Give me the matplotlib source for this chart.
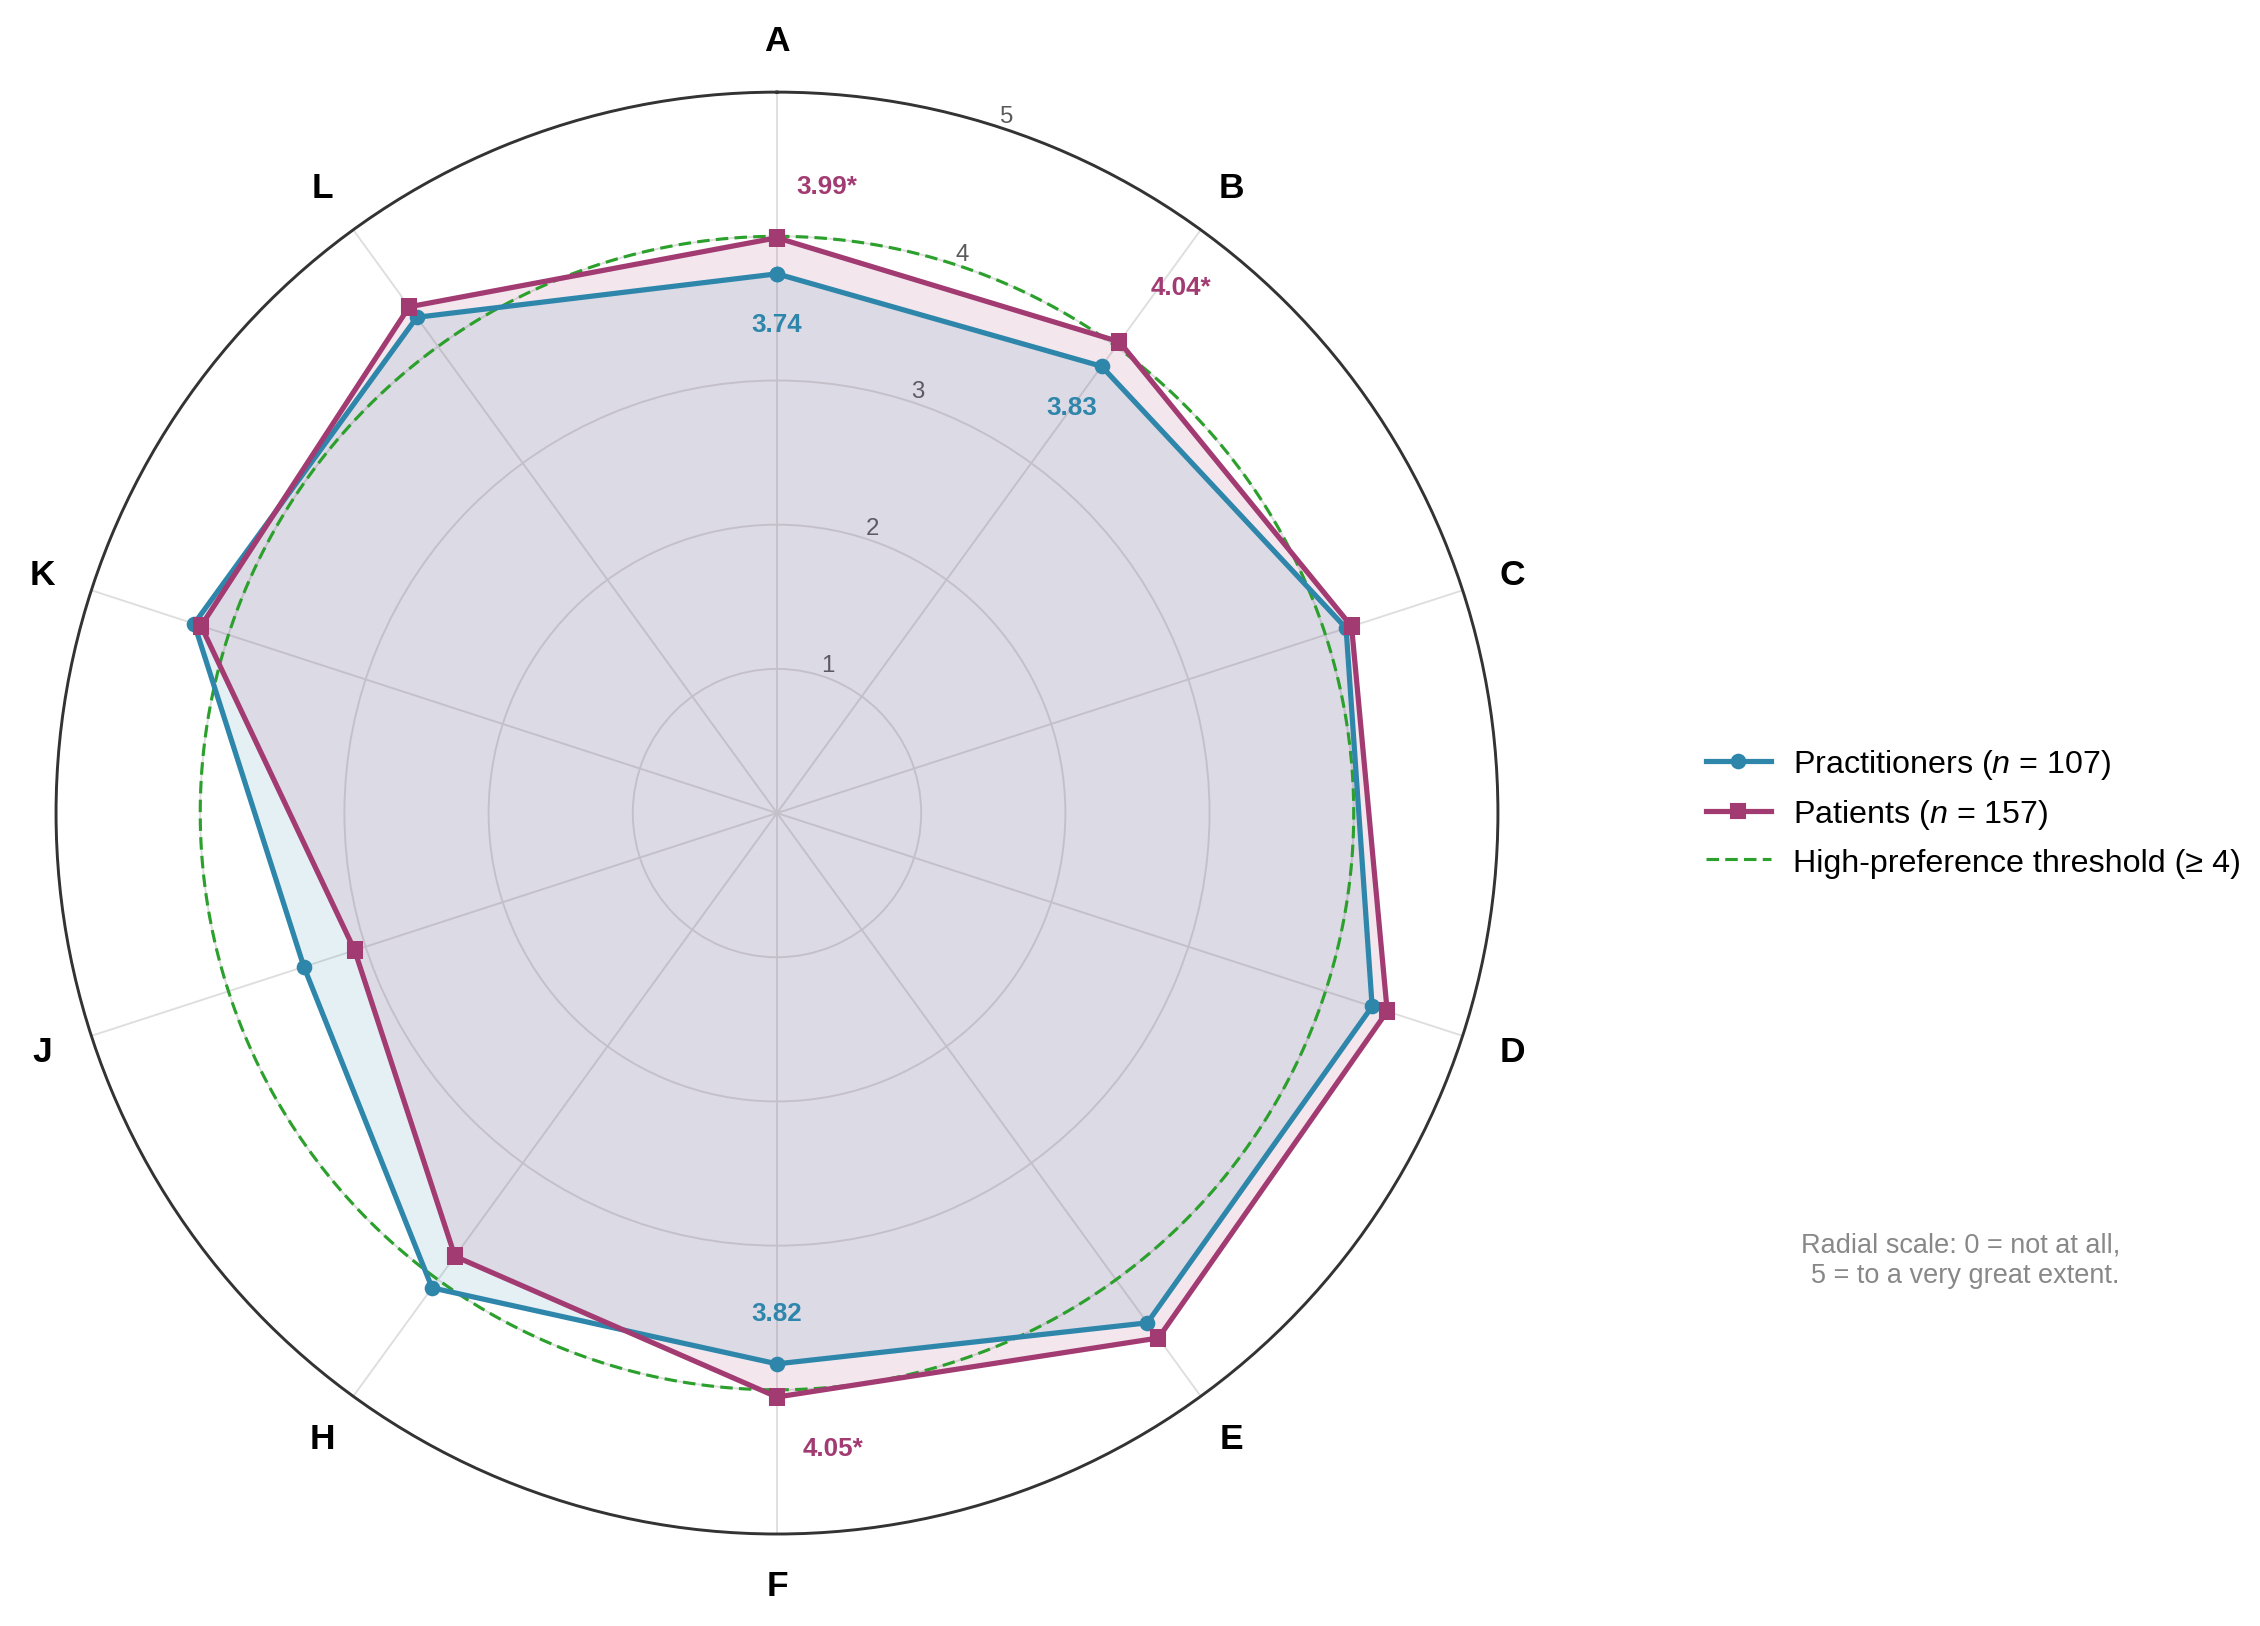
import numpy as np
import matplotlib
matplotlib.use("Agg")
import matplotlib.pyplot as plt
from matplotlib.lines import Line2D

plt.rcParams['font.family'] = ['Liberation Sans', 'DejaVu Sans']
plt.rcParams['mathtext.fontset'] = 'custom'
plt.rcParams['mathtext.rm'] = 'Liberation Sans'
plt.rcParams['mathtext.it'] = 'Liberation Sans:italic'

# data
categories = ['A', 'B', 'C', 'D', 'E', 'F', 'H', 'J', 'K', 'L']
practitioners = [3.74, 3.83, 4.15, 4.34, 4.37, 3.82, 4.07, 3.45, 4.25, 4.25]
patients = [3.99, 4.04, 4.19, 4.45, 4.50, 4.05, 3.80, 3.08, 4.20, 4.34]
threshold = 4
r_ticks = [1, 2, 3, 4, 5]

# labelled points: (index, series, text)
labelled = [(0, 'prac', '3.74'), (1, 'prac', '3.83'), (5, 'prac', '3.82'),
            (0, 'pat', '3.99*'), (1, 'pat', '4.04*'), (5, 'pat', '4.05*')]

c_prac = '#2E86AB'
c_pat = '#A23B72'
c_thr = '#2ca02c'

n = len(categories)
angles = np.linspace(0, 2 * np.pi, n, endpoint=False)
ang_c = np.append(angles, angles[0])
prac_c = np.append(practitioners, practitioners[0])
pat_c = np.append(patients, patients[0])

fig = plt.figure(figsize=(2260 / 150, 1627 / 150), dpi=150)
ax = fig.add_axes([0.0248, 0.0565, 0.638, 0.8863], projection='polar')
ax.set_theta_offset(np.pi / 2)
ax.set_theta_direction(-1)
ax.set_ylim(0, 5)

ax.set_xticks(angles)
ax.set_xticklabels([])
ax.set_yticks(r_ticks)
ax.set_yticklabels([str(t) for t in r_ticks], color='#5a5a5a', fontsize=11.5)
ax.set_rlabel_position(18)
ax.grid(color='#dedede', linewidth=0.9)
ax.spines['polar'].set_color('#333333')
ax.spines['polar'].set_linewidth(1.4)

ax.fill(ang_c, prac_c, color=c_prac, alpha=0.12, zorder=2)
ax.fill(ang_c, pat_c, color=c_pat, alpha=0.12, zorder=2)
ax.plot(ang_c, prac_c, color=c_prac, linewidth=2.5, marker='o', markersize=6.5, zorder=4)
ax.plot(ang_c, pat_c, color=c_pat, linewidth=2.5, marker='s', markersize=6.5, zorder=5)

circ = np.linspace(0, 2 * np.pi, 400)
ax.plot(circ, np.full_like(circ, threshold), color=c_thr, linestyle='--',
        linewidth=1.5, dashes=(4, 2), zorder=3)

for a, lab in zip(angles, categories):
    ax.text(a, 5.36, lab, ha='center', va='center', fontsize=17,
            fontweight='bold', clip_on=False)

# value annotations
for i, s, txt in labelled:
    a = angles[i]
    if s == 'prac':
        ax.text(a, practitioners[i] - 0.35, txt, color=c_prac, fontsize=12.5,
                fontweight='bold', ha='center', va='center', zorder=6)
    else:
        v = patients[i]
        if i == 1:
            ax.text(a + np.deg2rad(1.5), v + 0.56, txt, color=c_pat, fontsize=12.5,
                    fontweight='bold', ha='center', va='center', zorder=6)
        else:
            off = np.deg2rad(4.5) if i == 0 else -np.deg2rad(5.0)
            ax.text(a + off, v + 0.37, txt, color=c_pat, fontsize=12.5,
                    fontweight='bold', ha='center', va='center', zorder=6)

handles = [
    Line2D([], [], color=c_prac, linewidth=2.5, marker='o', markersize=6.5),
    Line2D([], [], color=c_pat, linewidth=2.5, marker='s', markersize=6.5),
    Line2D([], [], color=c_thr, linewidth=1.5, linestyle='--', dashes=(4, 2)),
]
labels = ['Practitioners ($n$ = 107)', 'Patients ($n$ = 157)',
          'High-preference threshold (≥ 4)']
fig.legend(handles, labels, loc='center left', bbox_to_anchor=(0.742, 0.5),
           frameon=False, fontsize=15.5, handlelength=2.0, handletextpad=0.7,
           labelspacing=0.5)

fig.text(0.938, 0.225, 'Radial scale: 0 = not at all,\n5 = to a very great extent.',
         ha='right', va='center', multialignment='right', fontsize=13,
         color='#888888')

fig.savefig('out.png', dpi=150)
